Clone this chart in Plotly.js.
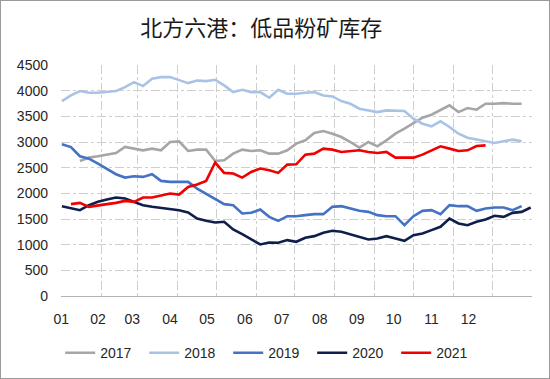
<!DOCTYPE html>
<html>
<head>
<meta charset="utf-8">
<script src="https://cdn.plot.ly/plotly-3.0.1.min.js"></script>
<style>
html,body{margin:0;padding:0;background:#fff;}
#frame{width:550px;height:379px;box-sizing:border-box;border:1px solid #9a9a9a;overflow:hidden;}
#chart{width:548px;height:377px;}
</style>
</head>
<body>
<div id="frame"><div id="chart"></div></div>
<script>
// Week index within the year (0 = first week of January)
const weeks2017 = [2,3,4,5,6,7,8,9,10,11,12,13,14,15,16,17,18,19,20,21,22,23,24,25,26,27,28,29,30,31,32,33,34,35,36,37,38,39,40,41,42,43,44,45,46,47,48,49,50,51];
const values2017 = [2631,2696,2722,2754,2786,2903,2871,2838,2871,2838,3000,3013,2825,2851,2851,2631,2644,2773,2851,2825,2838,2773,2773,2838,2968,3033,3175,3214,3162,3097,3000,2890,3000,2916,3033,3162,3259,3370,3473,3531,3616,3713,3583,3661,3629,3745,3745,3758,3745,3745];

const weeks2018 = [0,1,2,3,4,5,6,7,8,9,10,11,12,13,14,15,16,17,18,19,20,21,22,23,24,25,26,27,28,29,30,31,32,33,34,35,36,37,38,39,40,41,42,43,44,45,46,47,48,49,50,51];
const values2018 = [3797,3907,3992,3960,3960,3972,3992,4069,4167,4089,4231,4264,4264,4205,4147,4199,4186,4212,4102,3972,4018,3972,3972,3862,4018,3940,3940,3960,3972,3907,3888,3797,3745,3648,3616,3583,3616,3616,3603,3454,3357,3305,3402,3292,3162,3084,3052,3020,2981,3013,3046,3013];

const weeks2019 = [0,1,2,3,4,5,6,7,8,9,10,11,12,13,14,15,16,17,18,19,20,21,22,23,24,25,26,27,28,29,30,31,32,33,34,35,36,37,38,39,40,41,42,43,44,45,46,47,48,49,50,51];
const values2019 = [2955,2900,2722,2676,2579,2482,2372,2307,2333,2320,2372,2242,2223,2223,2223,2093,1996,1899,1789,1769,1607,1620,1685,1542,1464,1555,1555,1575,1594,1594,1737,1750,1704,1659,1639,1575,1555,1555,1380,1555,1659,1672,1594,1769,1750,1750,1659,1704,1724,1724,1672,1750];

const weeks2020 = [0,1,2,3,4,5,6,7,8,9,10,11,12,13,14,15,16,17,18,19,20,21,22,23,24,25,26,27,28,29,30,31,32,33,34,35,36,37,38,39,40,41,42,43,44,45,46,47,48,49,50,51,52];
const values2020 = [1750,1717,1672,1769,1834,1879,1918,1899,1834,1769,1737,1717,1685,1672,1626,1510,1464,1432,1445,1296,1205,1102,1004,1043,1037,1089,1056,1134,1166,1231,1270,1251,1205,1153,1102,1121,1166,1121,1076,1186,1218,1283,1348,1510,1413,1380,1445,1490,1562,1542,1620,1639,1724];

const weeks2021 = [1,2,3,4,5,6,7,8,9,10,11,12,13,14,15,16,17,18,19,20,21,22,23,24,25,26,27,28,29,30,31,32,33,34,35,36,37,38,39,40,41,42,43,44,45,46,47];
const values2021 = [1789,1814,1737,1756,1789,1814,1853,1834,1918,1918,1963,1996,1976,2125,2171,2242,2600,2398,2385,2307,2417,2482,2449,2398,2560,2566,2754,2773,2871,2851,2806,2825,2838,2806,2786,2806,2696,2696,2696,2754,2838,2916,2871,2825,2838,2922,2935];

const seriesNames = ['2017','2018','2019','2020','2021'];
const seriesColors = ['#a6a6a6','#a9c3e6','#4472c4','#0f1f4b','#f00000'];

const monthLabels = ['01','02','03','04','05','06','07','08','09','10','11','12'];
const monthLabelWeeks = [-0.06,4.0,7.8,12.0,16.1,20.3,24.4,28.6,32.7,36.8,41.0,45.1];
const monthStartDays = [0,31,59,90,120,151,181,212,243,273,304,334,365];
const monthEdgeWeeks = monthStartDays.map(d => d / 7);

const yTicks = [0,500,1000,1500,2000,2500,3000,3500,4000,4500];

const xs = [weeks2017, weeks2018, weeks2019, weeks2020, weeks2021];
const ys = [values2017, values2018, values2019, values2020, values2021];

const traces = seriesNames.map((n, i) => ({
  type: 'scatter', mode: 'lines', name: n,
  x: xs[i], y: ys[i],
  line: {color: seriesColors[i], width: 2.6},
  hoverinfo: 'skip'
}));

const gridColor = '#cfcfcf';
const layout = {
  width: 548, height: 377,
  margin: {l: 60, r: 17, t: 63.5, b: 82},
  paper_bgcolor: '#fff', plot_bgcolor: '#fff',
  font: {family: '"Liberation Sans", Arial, sans-serif', size: 14, color: '#262626'},
  title: {
    text: '北方六港：低品粉矿库存',
    font: {family: '"Noto Sans CJK SC", sans-serif', size: 22, color: '#1a1a1a'},
    xref: 'container', x: 0.475, xanchor: 'center',
    yref: 'container', y: 0.928, yanchor: 'middle'
  },
  xaxis: {
    range: [-0.1, 52.15],
    tickmode: 'array', tickvals: monthLabelWeeks, ticktext: monthLabels,
    showgrid: false, zeroline: false, ticks: '',
    showline: true, linecolor: '#b3b3b3', linewidth: 1,
    ticklabelstandoff: 10,
    minor: {tickmode: 'array', tickvals: monthEdgeWeeks, showgrid: true, gridcolor: gridColor, griddash: 'dashdot', gridwidth: 1, ticks: ''},
    fixedrange: true
  },
  yaxis: {
    range: [0, 4500],
    tickmode: 'array', tickvals: yTicks,
    showgrid: true, gridcolor: gridColor, griddash: 'dashdot', gridwidth: 1,
    zeroline: false, showline: false, ticks: '',
    ticklabelstandoff: 12,
    fixedrange: true
  },
  showlegend: true,
  legend: {
    orientation: 'h',
    xref: 'container', x: 0.108, xanchor: 'left',
    yref: 'container', y: 0.066, yanchor: 'middle',
    font: {family: '"Liberation Sans", Arial, sans-serif', size: 14, color: '#262626'},
    entrywidth: 39, entrywidthmode: 'pixels',
    traceorder: 'normal'
  }
};

Plotly.newPlot('chart', traces, layout, {displayModeBar: false, staticPlot: true});
</script>
</body>
</html>
